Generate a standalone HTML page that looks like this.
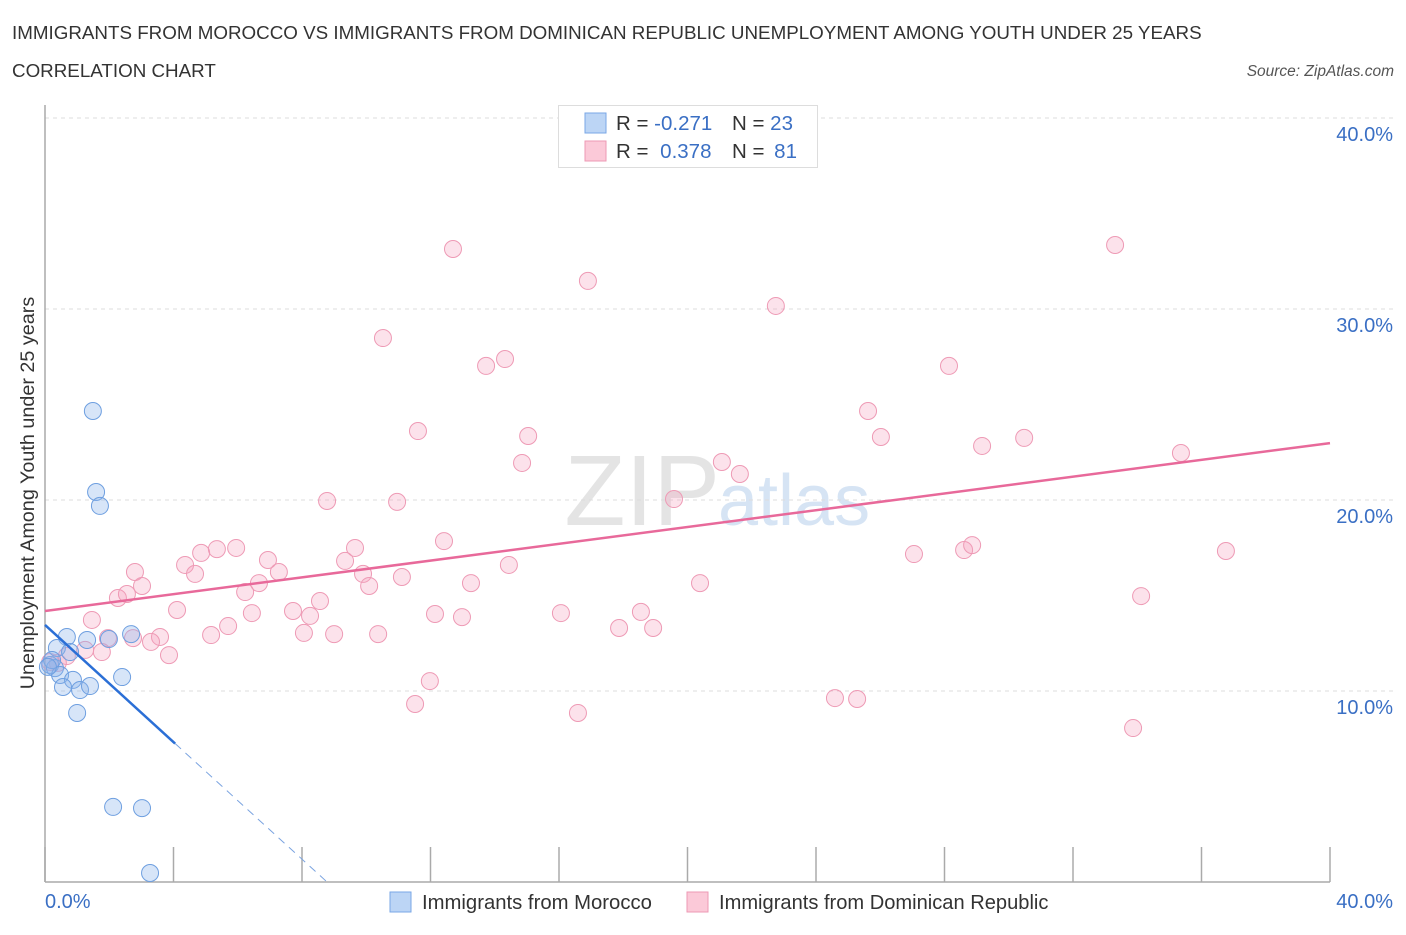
<!DOCTYPE html>
<html><head><meta charset="utf-8"><style>
body{margin:0;background:#fff;font-family:"Liberation Sans",sans-serif;}
svg text{font-family:"Liberation Sans",sans-serif;}
</style></head><body>
<svg id="chart" width="1406" height="930" viewBox="0 0 1406 930">
<text x="12" y="39" font-size="18.8" fill="#333">IMMIGRANTS FROM MOROCCO VS IMMIGRANTS FROM DOMINICAN REPUBLIC UNEMPLOYMENT AMONG YOUTH UNDER 25 YEARS</text>
<text x="12" y="77" font-size="18.8" fill="#333">CORRELATION CHART</text>
<text x="1394" y="76" font-size="15.5" fill="#555" font-style="italic" text-anchor="end">Source: ZipAtlas.com</text>
<text x="720" y="525" font-size="100" fill="#e4e4e4" text-anchor="end" font-family="Liberation Serif">ZIP</text>
<text x="718" y="525" font-size="72" fill="#d6e4f4">atlas</text>
<g id="grid"></g>
<g id="axes"></g>
<g id="marks"></g>
<text transform="translate(34,493) rotate(-90)" font-size="19.8" fill="#333" text-anchor="middle">Unemployment Among Youth under 25 years</text>
<text x="45" y="908" font-size="20" fill="#3a6fc4">0.0%</text>
<text x="1393" y="908" font-size="20" fill="#3a6fc4" text-anchor="end">40.0%</text>
<g>
<rect x="558.5" y="105.5" width="259" height="62" fill="#fff" stroke="#ddd"/>
<rect x="585" y="113" width="21" height="20" fill="#bcd5f5" stroke="#7aa7e6"/>
<rect x="585" y="141" width="21" height="20" fill="#fbc9d8" stroke="#ee99b4"/>
<text x="616" y="130" font-size="20.5" fill="#333">R = <tspan fill="#3a6fc4">-0.271</tspan></text>
<text x="732" y="130" font-size="20.5" fill="#333">N = <tspan fill="#3a6fc4">23</tspan></text>
<text x="616" y="158" font-size="20.5" fill="#333">R = <tspan fill="#3a6fc4" dx="6">0.378</tspan></text>
<text x="732" y="158" font-size="20.5" fill="#333">N = <tspan fill="#3a6fc4" dx="4">81</tspan></text>
</g>
<g>
<rect x="390" y="892" width="21" height="20" fill="#bcd5f5" stroke="#7aa7e6"/>
<text x="422" y="909" font-size="20.3" fill="#333">Immigrants from Morocco</text>
<rect x="687" y="892" width="21" height="20" fill="#fbc9d8" stroke="#ee99b4"/>
<text x="719" y="909" font-size="20.1" fill="#333">Immigrants from Dominican Republic</text>
</g>
</svg>
<script>
const yTicks=[10,20,30,40];
const yTickLabels=["10.0%","20.0%","30.0%","40.0%"];
const xTickMarks=[0,4,8,12,16,20,24,28,32,36,40];
const moroccoX=[1.49,1.59,1.71,0.68,1.31,1.99,2.68,0.37,0.78,0.16,0.31,0.47,0.87,0.56,1.09,1.40,2.40,1.00,2.12,3.02,3.27,0.22,0.09];
const moroccoY=[24.66,20.42,19.69,12.83,12.67,12.72,12.98,12.25,12.04,11.36,11.20,10.84,10.58,10.21,10.05,10.26,10.73,8.85,3.93,3.87,0.47,11.62,11.26];
const domX=[12.70,33.31,16.90,22.75,10.52,13.73,14.32,28.14,25.62,11.61,15.04,26.02,29.17,30.48,14.85,21.07,35.36,21.63,8.78,10.96,19.58,12.42,9.65,6.94,5.95,5.35,4.86,4.36,4.67,2.80,3.02,2.27,2.55,6.66,7.28,6.23,11.11,14.44,13.26,9.34,9.90,10.09,8.56,7.72,8.25,6.44,5.70,4.11,1.46,1.96,2.74,3.58,3.30,5.17,3.86,8.06,9.00,10.37,12.14,12.98,16.06,18.55,17.87,18.93,20.39,27.05,28.61,28.86,36.76,34.12,11.98,11.52,16.59,24.59,25.28,33.87,1.77,0.68,0.40,1.25,0.16];
const domY=[33.14,33.35,31.47,30.16,28.48,27.02,27.38,27.02,24.66,23.61,23.35,23.30,22.83,23.25,21.94,21.99,22.46,21.36,19.95,19.90,20.05,17.85,17.49,16.86,17.49,17.43,17.23,16.60,16.13,16.23,15.50,14.87,15.08,15.65,16.23,15.18,15.97,16.60,15.65,16.81,16.13,15.50,14.71,14.19,13.93,14.08,13.40,14.24,13.72,12.77,12.77,12.83,12.57,12.93,11.88,13.04,12.98,12.98,14.03,13.87,14.08,14.14,13.30,13.30,15.65,17.17,17.38,17.64,17.33,14.97,10.52,9.32,8.85,9.63,9.58,8.06,12.04,11.83,11.47,12.15,11.52];
const domTrend=[[0,14.19],[40,22.98]];
const morTrendSolid=[[0,13.46],[4.05,7.25]];
const morTrendDash=[[4.05,7.25],[8.78,0]];
const NS="http://www.w3.org/2000/svg";
const sx=v=>45+v*32.125, sy=v=>882-v*19.1;
function mk(tag,attrs,parent){const e=document.createElementNS(NS,tag);for(const k in attrs)e.setAttribute(k,attrs[k]);parent.appendChild(e);return e;}
const grid=document.getElementById('grid'),axes=document.getElementById('axes'),marks=document.getElementById('marks');
yTicks.forEach((t,i)=>{
 const l=mk('line',{x1:45,x2:1395,y1:sy(t),y2:sy(t),stroke:'#ddd','stroke-dasharray':'4,4'},grid);
 
 
 const tx=mk('text',{x:1393,y:sy(t)+23,'font-size':20,fill:'#3a6fc4','text-anchor':'end'},grid);
 tx.textContent=yTickLabels[i];
 
 
});
const ya=mk('line',{x1:45,x2:45,y1:105,y2:882,stroke:'#aaa','stroke-width':1.5},axes);


const xa=mk('line',{x1:45,x2:1330,y1:882,y2:882,stroke:'#aaa','stroke-width':1.5},axes);


xTickMarks.forEach(t=>{
 const l=mk('line',{x1:sx(t),x2:sx(t),y1:882,y2:847,stroke:'#aaa','stroke-width':1.5},axes);
 
 
});
domX.forEach((x,i)=>{
 const c=mk('circle',{cx:sx(x),cy:sy(domY[i]),r:8.5,fill:'rgba(245,160,190,0.3)',stroke:'#ee9ab5','stroke-width':1},marks);
 
 
});
moroccoX.forEach((x,i)=>{
 const c=mk('circle',{cx:sx(x),cy:sy(moroccoY[i]),r:8.5,fill:'rgba(140,180,235,0.35)',stroke:'#6e9fe0','stroke-width':1},marks);
 
 
});
const dl=mk('line',{x1:sx(domTrend[0][0]),y1:sy(domTrend[0][1]),x2:sx(domTrend[1][0]),y2:sy(domTrend[1][1]),stroke:'#e8699a','stroke-width':2.5},marks);


const ml=mk('line',{x1:sx(morTrendSolid[0][0]),y1:sy(morTrendSolid[0][1]),x2:sx(morTrendSolid[1][0]),y2:sy(morTrendSolid[1][1]),stroke:'#2b6fd6','stroke-width':2.5},marks);


const md=mk('line',{x1:sx(morTrendDash[0][0]),y1:sy(morTrendDash[0][1]),x2:sx(morTrendDash[1][0]),y2:sy(morTrendDash[1][1]),stroke:'#7aa3e0','stroke-width':1,'stroke-dasharray':'8,6'},marks);


</script>
</body></html>
